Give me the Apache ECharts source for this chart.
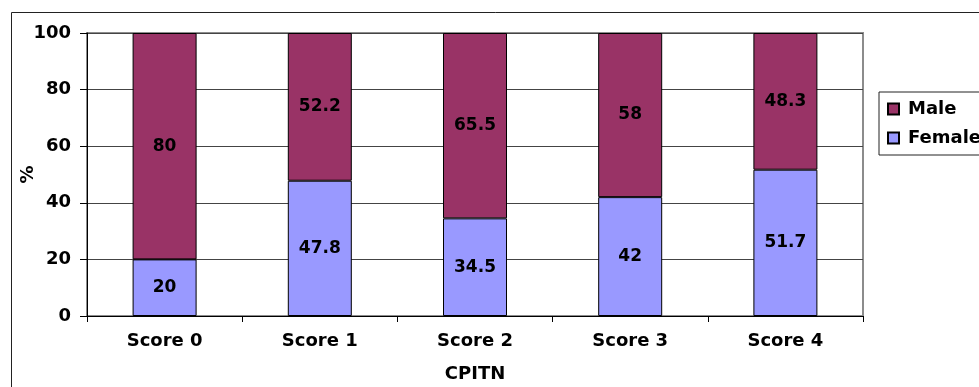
<!DOCTYPE html>
<html>
<head>
<meta charset="utf-8">
<script src="https://cdn.jsdelivr.net/npm/echarts@6/dist/echarts.min.js"></script>
<style>
html,body{margin:0;padding:0;background:#fff;}
#chart{width:979px;height:387px;}
</style>
</head>
<body>
<div id="chart"></div>
<script>
// CPITN score categories and the share of each sex (%)
var categories = ['Score 0', 'Score 1', 'Score 2', 'Score 3', 'Score 4'];
var femaleValues = [20, 47.8, 34.5, 42, 51.7];
var maleValues = [80, 52.2, 65.5, 58, 48.3];
var yTicks = [0, 20, 40, 60, 80, 100];

var font = '"DejaVu Sans", Verdana, sans-serif';
var chart = echarts.init(document.getElementById('chart'));

function segmentLabel() {
  return {
    show: true,
    position: 'inside',
    color: '#000',
    fontFamily: font,
    fontWeight: 'bold',
    fontSize: 17
  };
}

chart.setOption({
  animation: false,
  backgroundColor: '#fff',
  graphic: [{
    type: 'rect',
    shape: { x: 11.5, y: 12.5, width: 1000, height: 400 },
    style: { fill: 'none', stroke: '#222', lineWidth: 1 },
    z: 0
  }],
  grid: {
    left: 87, top: 33, right: 116, bottom: 71,
    containLabel: false,
    outerBoundsMode: 'none',
    show: true,
    borderColor: '#8c8c8c',
    borderWidth: 2,
    backgroundColor: '#fff'
  },
  legend: {
    orient: 'vertical',
    left: 879,
    top: 92,
    padding: [8, 10, 8, 8],
    itemGap: 11,
    itemWidth: 11,
    itemHeight: 11,
    icon: 'rect',
    borderColor: '#222',
    borderWidth: 1,
    backgroundColor: '#fff',
    textStyle: { fontFamily: font, fontWeight: 'bold', fontSize: 18, color: '#000', padding: [0, 0, 0, 4] },
    data: ['Male', 'Female']
  },
  xAxis: {
    type: 'category',
    data: categories,
    name: 'CPITN',
    nameLocation: 'middle',
    nameGap: 49,
    nameMoveOverlap: false,
    nameTextStyle: { fontFamily: font, fontWeight: 'bold', fontSize: 18, color: '#000' },
    axisLine: { lineStyle: { color: '#000', width: 1 } },
    axisTick: { show: true, length: 6, lineStyle: { color: '#000' } },
    axisLabel: { fontFamily: font, fontWeight: 'bold', fontSize: 18, color: '#000', margin: 16 }
  },
  yAxis: {
    type: 'value',
    min: yTicks[0],
    max: yTicks[yTicks.length - 1],
    interval: yTicks[1] - yTicks[0],
    name: '%',
    nameLocation: 'middle',
    nameGap: 50,
    nameRotate: 90,
    nameMoveOverlap: false,
    nameTextStyle: { fontFamily: font, fontWeight: 'bold', fontSize: 18, color: '#000' },
    axisLine: { show: true, lineStyle: { color: '#000', width: 1 } },
    axisTick: { show: true, length: 7, lineStyle: { color: '#000' } },
    axisLabel: { fontFamily: font, fontWeight: 'bold', fontSize: 18, color: '#000', margin: 16 },
    splitLine: { show: true, lineStyle: { color: '#444', width: 1 } }
  },
  series: [
    {
      name: 'Female',
      type: 'bar',
      stack: 'sex',
      barWidth: 64,
      data: femaleValues,
      itemStyle: { color: '#9999FF', borderColor: '#000', borderWidth: 1 },
      label: segmentLabel()
    },
    {
      name: 'Male',
      type: 'bar',
      stack: 'sex',
      barWidth: 64,
      data: maleValues,
      itemStyle: { color: '#993366', borderColor: '#000', borderWidth: 1 },
      label: segmentLabel()
    }
  ]
});
</script>
</body>
</html>
